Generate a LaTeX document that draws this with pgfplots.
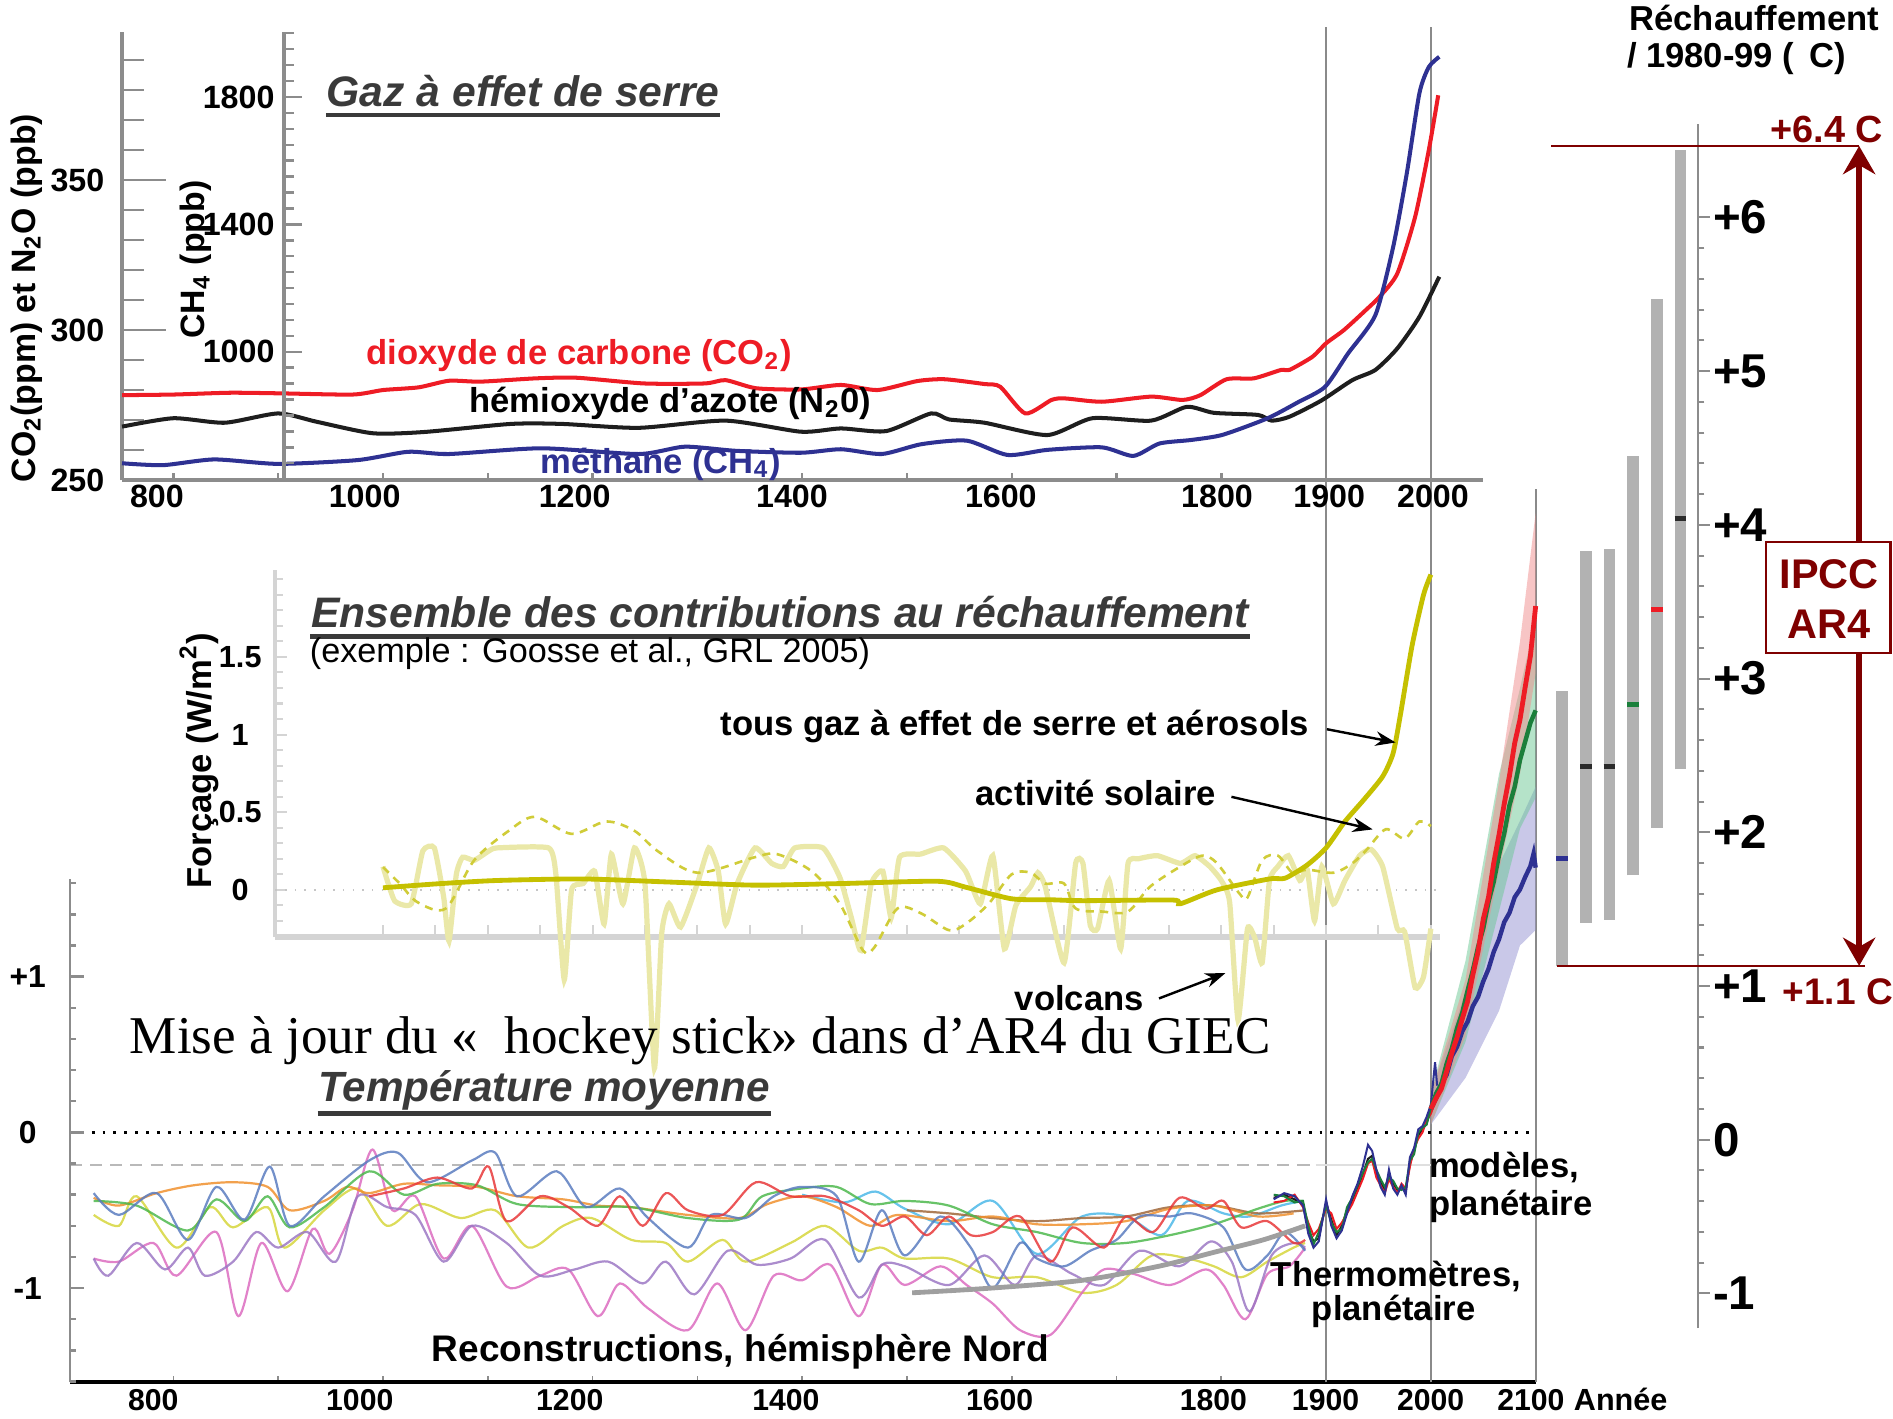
\documentclass[border=0pt]{standalone}
\usepackage{pgfplots}
\pgfplotsset{compat=1.18}
\usepackage{fontspec}
\setmainfont{Liberation Sans}
\newfontfamily\timesf{Liberation Serif}
\usetikzlibrary{arrows.meta}
\newcommand\fs[1]{\fontsize{#1}{#1}\selectfont}
\definecolor{axg}{HTML}{8C8C8C}
\definecolor{lax}{HTML}{D4D4D4}
\definecolor{co2}{HTML}{EE1C25}
\definecolor{n2o}{HTML}{1E1E1E}
\definecolor{ch4}{HTML}{2E3192}
\definecolor{ghg}{HTML}{C5C000}
\definecolor{sol}{HTML}{D0CC38}
\definecolor{vol}{HTML}{EAE8A8}
\definecolor{dred}{HTML}{7F0000}
\definecolor{ttl}{HTML}{3A3A3A}
\definecolor{barg}{HTML}{B2B2B2}
\definecolor{pgreen}{HTML}{1B7F3B}
\definecolor{darkm}{HTML}{2B2B2B}
\definecolor{rOr}{HTML}{F0902E}
\definecolor{rGr}{HTML}{4DB84D}
\definecolor{rBl}{HTML}{5A7CC0}
\definecolor{rRd}{HTML}{E8383A}
\definecolor{rPu}{HTML}{9C78C4}
\definecolor{rPk}{HTML}{DC6CC0}
\definecolor{rYe}{HTML}{D6D63C}
\definecolor{rCy}{HTML}{4CB8E8}
\definecolor{rBr}{HTML}{A0673A}
\definecolor{bandR}{HTML}{F08C8C}
\definecolor{bandG}{HTML}{6CC794}
\definecolor{bandB}{HTML}{9C9AD6}
\definecolor{vlc}{HTML}{8A8A8A}
\begin{document}
\begin{tikzpicture}
\tikzset{
  tlab/.style={anchor=base,inner sep=0pt,yshift=-6.9pt,font=\bfseries\fs{8}},
  blab/.style={anchor=base,inner sep=0pt,yshift=-6.9pt,font=\bfseries\fs{7.5}},
}
\pgfplotsset{
  every tick label/.append style={font=\bfseries\fs{8}},
  every non boxed x axis/.append style={x axis line style={-}},
  every non boxed y axis/.append style={y axis line style={-}},
  base/.style={scale only axis, clip=false, anchor=south west},
  rec/.style={smooth, line width=0.55pt, opacity=0.85},
}

%================ Temperature panel (data) ================
\begin{axis}[base, at={(17.4pt,-343.5pt)}, width=364.2pt, height=222pt,
  xmin=701.4, xmax=2100, ymin=-1.605, ymax=4.132,
  axis x line=bottom, axis y line=none,
  x axis line style={-, black, line width=1pt},
  xtick={800,900,...,2100}, xticklabel=\empty, tick align=inside,
  major tick length=1.5pt, xtick style={axg, line width=0.4pt}]
\draw[vlc, line width=0.45pt] (axis cs:1900,-1.605) -- (axis cs:1900,7.10);
\draw[vlc, line width=0.45pt] (axis cs:2000,-1.605) -- (axis cs:2000,7.10);
\draw[vlc, line width=0.45pt] (axis cs:2100,-1.605) -- (axis cs:2100,4.132);
\draw[black, dotted, line width=0.7pt] (axis cs:701.4,0) -- (axis cs:2100,0);
\draw[gray!55, densely dashed, line width=0.3pt] (axis cs:701.4,-0.21) -- (axis cs:1890,-0.21);
\draw[gray!25, line width=0.4pt] (axis cs:1890,-0.21) -- (axis cs:2000,-0.21);
\addplot[draw=none, fill=bandB, fill opacity=0.55] coordinates {(2000,0.25)(2033,0.90)(2065,1.72)(2085,2.00)(2100,2.22)(2100,1.30)(2085,1.20)(2065,0.78)(2033,0.35)(2000,0.05)} -- cycle;
\addplot[draw=none, fill=bandG, fill opacity=0.5] coordinates {(2000,0.25)(2033,1.10)(2065,2.30)(2085,2.85)(2100,3.30)(2100,2.15)(2085,1.95)(2065,1.42)(2033,0.58)(2000,0.05)} -- cycle;
\addplot[draw=none, fill=bandR, fill opacity=0.5] coordinates {(2000,0.25)(2033,0.98)(2065,2.25)(2085,3.15)(2100,3.98)(2100,2.95)(2085,2.30)(2065,1.68)(2033,0.62)(2000,0.05)} -- cycle;
\addplot[rec, rYe] coordinates {(724,-0.53)(748,-0.60)(765,-0.41)(803,-0.74)(835,-0.48)(857,-0.61)(890,-0.48)(906,-0.74)(944,-0.50)(976,-0.36)(1004,-0.60)(1036,-0.46)(1074,-0.55)(1107,-0.50)(1139,-0.74)(1172,-0.60)(1199,-0.55)(1237,-0.69)(1270,-0.71)(1291,-0.83)(1324,-0.69)(1346,-0.83)(1389,-0.71)(1422,-0.60)(1454,-0.76)(1476,-0.74)(1498,-0.81)(1540,-0.81)(1582,-0.93)(1624,-0.93)(1667,-1.03)(1700,-0.98)(1734,-0.79)(1768,-0.81)(1793,-0.86)(1819,-0.93)(1844,-0.83)(1869,-0.74)(1880,-0.71)};
\addplot[rec, rPk] coordinates {(724,-0.81)(748,-0.83)(781,-0.71)(803,-0.92)(841,-0.64)(862,-1.18)(884,-0.71)(909,-1.02)(933,-0.62)(949,-0.78)(971,-0.50)(990,-0.11)(1009,-0.50)(1031,-0.41)(1058,-0.81)(1085,-0.60)(1118,-0.99)(1150,-0.92)(1177,-0.88)(1205,-1.18)(1226,-0.97)(1253,-1.13)(1291,-1.27)(1319,-0.97)(1346,-1.27)(1373,-0.92)(1400,-0.95)(1427,-0.85)(1454,-1.18)(1476,-0.85)(1498,-0.98)(1532,-0.86)(1557,-0.98)(1582,-1.10)(1608,-1.27)(1637,-1.30)(1667,-1.03)(1688,-0.88)(1717,-0.91)(1751,-0.98)(1785,-0.88)(1802,-0.98)(1823,-1.20)(1844,-0.91)(1865,-0.86)(1880,-0.74)};
\addplot[rec, rPu] coordinates {(724,-0.81)(738,-0.92)(765,-0.71)(792,-0.88)(814,-0.74)(830,-0.92)(857,-0.83)(879,-0.64)(900,-0.74)(928,-0.64)(955,-0.83)(976,-0.41)(1004,-0.48)(1031,-0.53)(1058,-0.83)(1085,-0.60)(1118,-0.71)(1150,-0.92)(1183,-0.88)(1215,-0.83)(1248,-0.97)(1270,-0.83)(1297,-1.04)(1329,-0.76)(1357,-0.85)(1389,-0.81)(1422,-0.69)(1454,-1.06)(1476,-0.85)(1498,-0.86)(1540,-0.98)(1574,-0.79)(1603,-0.98)(1624,-0.79)(1658,-0.91)(1688,-0.98)(1722,-0.76)(1760,-0.86)(1790,-0.70)(1810,-0.83)(1827,-1.15)(1848,-0.79)(1869,-0.71)(1880,-0.74)};
\addplot[rec, rCy] coordinates {(1400,-0.40)(1440,-0.45)(1470,-0.38)(1498,-0.49)(1540,-0.59)(1582,-0.44)(1624,-0.78)(1667,-0.54)(1709,-0.54)(1743,-0.66)(1768,-0.44)(1802,-0.52)(1827,-0.54)(1857,-0.47)(1878,-0.44)};
\addplot[rec, rBr] coordinates {(1500,-0.50)(1540,-0.52)(1582,-0.55)(1624,-0.57)(1667,-0.55)(1709,-0.54)(1751,-0.48)(1793,-0.47)(1835,-0.52)(1880,-0.50)};
\addplot[rec, rOr] coordinates {(724,-0.42)(748,-0.47)(784,-0.39)(819,-0.34)(857,-0.32)(890,-0.35)(911,-0.50)(944,-0.44)(966,-0.35)(987,-0.39)(1020,-0.33)(1052,-0.34)(1090,-0.35)(1128,-0.41)(1172,-0.43)(1205,-0.47)(1237,-0.48)(1291,-0.53)(1340,-0.55)(1367,-0.46)(1400,-0.41)(1433,-0.48)(1465,-0.60)(1491,-0.53)(1540,-0.57)(1582,-0.54)(1624,-0.59)(1667,-0.59)(1709,-0.57)(1751,-0.49)(1793,-0.47)(1835,-0.54)(1869,-0.52)};
\addplot[rec, rGr] coordinates {(724,-0.44)(765,-0.47)(814,-0.63)(841,-0.43)(868,-0.57)(890,-0.41)(911,-0.61)(944,-0.48)(987,-0.25)(1020,-0.40)(1052,-0.33)(1090,-0.34)(1128,-0.46)(1183,-0.48)(1237,-0.48)(1291,-0.55)(1340,-0.56)(1362,-0.41)(1400,-0.36)(1433,-0.35)(1465,-0.46)(1498,-0.44)(1540,-0.47)(1582,-0.59)(1624,-0.64)(1667,-0.71)(1709,-0.71)(1751,-0.66)(1793,-0.59)(1835,-0.49)(1861,-0.44)(1878,-0.44)};
\addplot[rec, rBl] coordinates {(724,-0.39)(748,-0.53)(784,-0.39)(814,-0.69)(841,-0.35)(868,-0.56)(892,-0.22)(911,-0.60)(944,-0.41)(987,-0.18)(1014,-0.13)(1042,-0.32)(1085,-0.18)(1107,-0.13)(1128,-0.41)(1166,-0.25)(1194,-0.48)(1226,-0.36)(1253,-0.55)(1291,-0.74)(1313,-0.53)(1346,-0.55)(1373,-0.41)(1400,-0.35)(1433,-0.41)(1454,-0.83)(1476,-0.50)(1498,-0.79)(1532,-0.54)(1561,-0.74)(1582,-1.00)(1608,-0.71)(1624,-0.81)(1650,-0.86)(1675,-0.76)(1700,-0.69)(1722,-0.54)(1751,-0.54)(1772,-0.52)(1802,-0.61)(1823,-0.88)(1844,-0.79)(1861,-0.64)(1880,-0.76)};
\addplot[rec, rRd] coordinates {(987,-0.41)(1020,-0.36)(1052,-0.29)(1085,-0.36)(1101,-0.22)(1118,-0.57)(1150,-0.41)(1177,-0.48)(1205,-0.60)(1226,-0.41)(1248,-0.60)(1270,-0.39)(1291,-0.50)(1324,-0.53)(1356,-0.32)(1389,-0.41)(1422,-0.41)(1454,-0.50)(1476,-0.60)(1498,-0.54)(1519,-0.66)(1540,-0.54)(1561,-0.66)(1582,-0.64)(1608,-0.54)(1637,-0.83)(1658,-0.61)(1688,-0.74)(1709,-0.54)(1735,-0.64)(1760,-0.42)(1785,-0.49)(1802,-0.44)(1819,-0.61)(1844,-0.57)(1869,-0.71)(1880,-0.69)};
\addplot[smooth, gray!75, line width=1.2pt] coordinates {(1505,-1.03)(1580,-1.00)(1667,-0.95)(1740,-0.86)(1793,-0.77)(1840,-0.69)(1880,-0.60)};
\addplot[n2o, line width=0.5pt] coordinates {(1850,-0.42)(1860,-0.40)(1870,-0.43)(1878,-0.46)(1883,-0.62)(1888,-0.70)(1893,-0.68)(1900,-0.45)(1905,-0.56)(1910,-0.66)(1915,-0.60)(1920,-0.50)(1925,-0.44)(1930,-0.36)(1935,-0.27)(1940,-0.17)(1944,-0.15)(1948,-0.26)(1952,-0.32)(1956,-0.37)(1960,-0.27)(1964,-0.33)(1968,-0.37)(1972,-0.35)(1976,-0.38)(1980,-0.20)(1984,-0.12)(1988,-0.02)(1992,0.02)(1996,0.06)(2000,0.14)(2005,0.24)};
\addplot[co2, line width=0.5pt] coordinates {(1850,-0.45)(1860,-0.44)(1870,-0.40)(1878,-0.48)(1883,-0.58)(1888,-0.66)(1893,-0.62)(1900,-0.49)(1905,-0.52)(1910,-0.62)(1915,-0.58)(1920,-0.52)(1925,-0.46)(1930,-0.38)(1935,-0.30)(1940,-0.20)(1944,-0.18)(1948,-0.29)(1952,-0.34)(1956,-0.39)(1960,-0.30)(1964,-0.35)(1968,-0.39)(1972,-0.33)(1976,-0.36)(1980,-0.22)(1984,-0.10)(1988,-0.04)(1992,0.00)(1996,0.08)(2000,0.12)(2005,0.22)};
\addplot[pgreen, line width=0.5pt] coordinates {(1850,-0.40)(1860,-0.41)(1870,-0.45)(1878,-0.44)(1883,-0.60)(1888,-0.72)(1893,-0.64)(1900,-0.47)(1905,-0.58)(1910,-0.64)(1915,-0.62)(1920,-0.48)(1925,-0.42)(1930,-0.34)(1935,-0.26)(1940,-0.19)(1944,-0.17)(1948,-0.24)(1952,-0.30)(1956,-0.35)(1960,-0.29)(1964,-0.31)(1968,-0.36)(1972,-0.37)(1976,-0.35)(1980,-0.18)(1984,-0.14)(1988,0.00)(1992,0.03)(1996,0.05)(2000,0.16)(2005,0.26)};
\addplot[ch4, line width=0.5pt] coordinates {(1850,-0.43)(1860,-0.39)(1870,-0.41)(1878,-0.47)(1883,-0.65)(1888,-0.74)(1893,-0.70)(1900,-0.43)(1905,-0.60)(1910,-0.68)(1915,-0.63)(1920,-0.52)(1925,-0.41)(1930,-0.33)(1935,-0.22)(1940,-0.08)(1944,-0.12)(1948,-0.24)(1952,-0.35)(1956,-0.40)(1960,-0.24)(1964,-0.36)(1968,-0.40)(1972,-0.34)(1976,-0.40)(1980,-0.16)(1984,-0.10)(1988,0.02)(1992,0.04)(1996,0.10)(2000,0.18)(2004,0.45)(2006,0.30)};
\addplot[ch4, line width=1.1pt] coordinates {(2000,0.15)(2005,0.22)(2010,0.31)(2015,0.37)(2020,0.49)(2025,0.55)(2030,0.65)(2035,0.71)(2040,0.81)(2045,0.87)(2050,0.97)(2055,1.05)(2060,1.16)(2065,1.24)(2070,1.35)(2075,1.41)(2080,1.51)(2085,1.56)(2090,1.64)(2095,1.71)(2098,1.79)(2100,1.70)};
\addplot[pgreen, line width=1.1pt] coordinates {(2000,0.15)(2005,0.25)(2010,0.31)(2015,0.44)(2020,0.54)(2025,0.67)(2030,0.77)(2035,0.91)(2040,1.04)(2045,1.19)(2050,1.31)(2055,1.48)(2060,1.61)(2065,1.78)(2070,1.92)(2075,2.10)(2080,2.22)(2085,2.39)(2090,2.51)(2095,2.63)(2100,2.71)};
\addplot[co2, line width=1.2pt] coordinates {(2000,0.15)(2005,0.22)(2010,0.28)(2015,0.39)(2020,0.51)(2025,0.61)(2030,0.73)(2035,0.84)(2040,1.01)(2045,1.16)(2050,1.37)(2055,1.51)(2060,1.73)(2065,1.91)(2070,2.11)(2075,2.29)(2080,2.50)(2085,2.65)(2090,2.86)(2095,3.06)(2100,3.38)};
\node[blab] at (axis cs:780.9,-1.605) {800};
\node[blab] at (axis cs:977.9,-1.605) {1000};
\node[blab] at (axis cs:1178.3,-1.605) {1200};
\node[blab] at (axis cs:1384.6,-1.605) {1400};
\node[blab] at (axis cs:1588.5,-1.605) {1600};
\node[blab] at (axis cs:1792.4,-1.605) {1800};
\node[blab] at (axis cs:1899.5,-1.605) {1900};
\node[blab] at (axis cs:1999.8,-1.605) {2000};
\node[blab] at (axis cs:2095.4,-1.605) {2100};
\end{axis}

%================ Left temperature ruler ================
\begin{axis}[base, at={(17.4pt,-343.5pt)}, width=0.1pt, height=125.1pt,
  xmin=0, xmax=1, ymin=-1.605, ymax=1.628,
  axis x line=none, axis y line=left, y axis line style={-, axg, line width=0.7pt},
  ytick={-1,0,1}, yticklabels={-1,0,+1}, minor ytick={-1.6,-1.4,...,1.61},
  tick align=inside, major tick length=3.4pt, minor tick length=1.5pt,
  tick style={axg, line width=0.6pt},
  yticklabel style={font=\bfseries\fs{7.9}, anchor=center, inner sep=0pt, xshift=-10.5pt}]
\end{axis}

%================ IPCC AR4 bars ================
\begin{axis}[base, at={(384pt,-330pt)}, width=38pt, height=299.1pt,
  xmin=0.286, xmax=6.75, ymin=-1.225, ymax=6.606,
  axis x line=none, axis y line=right, y axis line style={-, axg, line width=0.6pt},
  ytick={-1,0,...,6}, yticklabels={-1,0,+1,+2,+3,+4,+5,+6}, minor y tick num=4,
  tick align=outside, major tick length=2.9pt, minor tick length=1.5pt,
  tick style={axg, line width=0.5pt},
  yticklabel style={font=\bfseries\fs{11.8}, anchor=west, inner sep=0.6pt}]
\addplot[barg, line width=2.9pt] coordinates {(1,1.13) (1,2.92)};
\addplot[barg, line width=2.9pt] coordinates {(2,1.41) (2,3.83)};
\addplot[barg, line width=2.9pt] coordinates {(3,1.43) (3,3.84)};
\addplot[barg, line width=2.9pt] coordinates {(4,1.72) (4,4.45)};
\addplot[barg, line width=2.9pt] coordinates {(5,2.03) (5,5.47)};
\addplot[barg, line width=2.9pt] coordinates {(6,2.41) (6,6.44)};
\addplot[ch4, line width=1.3pt] coordinates {(0.755,1.83) (1.245,1.83)};
\addplot[darkm, line width=1.3pt] coordinates {(1.755,2.43) (2.245,2.43)};
\addplot[darkm, line width=1.3pt] coordinates {(2.755,2.43) (3.245,2.43)};
\addplot[pgreen, line width=1.3pt] coordinates {(3.755,2.83) (4.245,2.83)};
\addplot[co2, line width=1.3pt] coordinates {(4.755,3.45) (5.245,3.45)};
\addplot[darkm, line width=1.3pt] coordinates {(5.755,4.04) (6.245,4.04)};
\draw[dred, line width=0.6pt] (axis cs:0.541,6.465) -- (axis cs:13.55,6.465);
\draw[dred, line width=0.6pt] (axis cs:0.796,1.131) -- (axis cs:13.81,1.131);
\draw[dred, line width=1.65pt, {Stealth[length=7pt,width=8pt]}-{Stealth[length=7pt,width=8pt]}] (axis cs:13.55,6.465) -- (axis cs:13.55,1.131);
\end{axis}

%================ Panel 1: greenhouse gases ================
\begin{axis}[base, at={(30.3pt,-119.28pt)}, width=338.1pt, height=111.33pt,
  xmin=750.9, xmax=2049.3, ymin=250, ymax=399.4,
  axis x line=bottom, axis y line=left,
  x axis line style={-, axg, line width=0.9pt}, y axis line style={-, axg, line width=0.9pt},
  xtick={800,900,...,2000}, xticklabel=\empty,
  ytick={250,300,350}, yticklabels={250,300,350}, minor ytick={260,270,...,390},
  tick align=inside, major tick length=11pt, minor tick length=5.4pt,
  tick style={axg, line width=0.6pt}, xtick style={/pgfplots/major tick length=1.8pt},
  yticklabel style={font=\bfseries\fs{8}, inner sep=0pt, xshift=-4.2pt}]
\addplot[co2, smooth, tension=0.4, line width=1pt] coordinates {(751,278.3)(800,278.5)(854,279.1)(902,278.9)(971,278.5)(1000,280.0)(1034,280.9)(1063,283.1)(1093,282.8)(1146,283.9)(1185,284.1)(1249,282.2)(1307,282.2)(1327,283.3)(1356,280.6)(1399,280.2)(1437,281.7)(1472,280.0)(1510,283.0)(1536,283.6)(1574,282.0)(1589,281.1)(1613,272.2)(1638,276.7)(1651,277.2)(1686,276.1)(1733,277.8)(1763,276.7)(1780,278.3)(1805,283.6)(1831,283.9)(1857,286.7)(1865,286.7)(1887,291.1)(1900,295.6)(1917,300.0)(1938,306.7)(1951,311.1)(1968,318.9)(1985,337.8)(1998,360.0)(2007,378.3)};
\addplot[n2o, smooth, tension=0.4, line width=1pt] coordinates {(751,267.8)(800,270.6)(849,269.1)(900,272.2)(937,269.4)(990,265.6)(1039,266.0)(1122,268.7)(1171,268.7)(1244,267.4)(1327,269.8)(1399,266.1)(1437,267.2)(1480,266.3)(1523,272.2)(1540,270.2)(1574,269.1)(1634,265.0)(1677,270.6)(1733,269.8)(1767,274.4)(1793,272.4)(1835,271.7)(1848,269.8)(1865,271.1)(1895,276.4)(1925,283.3)(1947,286.7)(1968,293.9)(1989,304.4)(2008,317.8)};
\node[tlab] at (axis cs:784.3,250) {800};
\node[tlab] at (axis cs:982.5,250) {1000};
\node[tlab] at (axis cs:1182.9,250) {1200};
\node[tlab] at (axis cs:1390.3,250) {1400};
\node[tlab] at (axis cs:1589.6,250) {1600};
\node[tlab] at (axis cs:1795.9,250) {1800};
\node[tlab] at (axis cs:1903,250) {1900};
\node[tlab] at (axis cs:2002,250) {2000};
\end{axis}
\begin{axis}[base, at={(30.3pt,-119.28pt)}, width=338.1pt, height=111.33pt,
  xmin=750.9, xmax=2049.3, ymin=597.4, ymax=2004, hide axis]
\addplot[ch4, smooth, tension=0.4, line width=1pt] coordinates {(751,650)(790,644)(839,662)(900,648)(976,660)(1024,686)(1063,679)(1151,697)(1244,679)(1288,702)(1337,689)(1399,683)(1437,694)(1476,679)(1514,710)(1557,721)(1596,676)(1634,692)(1686,700)(1716,673)(1741,712)(1771,723)(1801,739)(1844,791)(1874,843)(1899,890)(1921,995)(1947,1115)(1964,1329)(1977,1560)(1989,1811)(1998,1894)(2008,1926)};
\end{axis}
\begin{axis}[base, at={(70.5pt,-119.28pt)}, width=0.1pt, height=111.33pt,
  xmin=0, xmax=1, ymin=597.4, ymax=2004,
  axis x line=none, axis y line=left, y axis line style={-, axg, line width=0.9pt},
  ytick={1000,1400,1800}, yticklabels={1000,1400,1800}, minor ytick={600,650,...,2000},
  tick align=inside, major tick length=4.5pt, minor tick length=2.5pt,
  tick style={axg, line width=0.6pt},
  yticklabel style={font=\bfseries\fs{8}, inner sep=0pt, xshift=-2.1pt}]
\end{axis}

%================ Panel 2: forcing ================
\begin{axis}[base, at={(68.4pt,-232.8pt)}, width=289.5pt, height=91.2pt,
  xmin=897.2, xmax=2009, ymin=-0.303, ymax=2.061,
  axis x line=bottom, axis y line=left,
  x axis line style={-, lax, line width=1.5pt}, y axis line style={-, lax, line width=1pt},
  xtick={1000,1050,...,2000}, xticklabel=\empty,
  ytick={0,0.5,1,1.5}, yticklabels={0,0.5,1,1.5}, minor ytick={-0.3,-0.2,...,2.01},
  tick align=inside, major tick length=3pt, minor tick length=1.8pt,
  tick style={lax, line width=0.5pt},
  yticklabel style={font=\bfseries\fs{7.6}, anchor=center, inner sep=0pt, xshift=-8.7pt}]
\draw[gray!45, dotted, line width=0.4pt] (axis cs:897.2,0) -- (axis cs:2009,0);
\addplot[vol, smooth, tension=0.3, line width=1.3pt] coordinates {(1000,0.15)(1011,-0.07)(1027,-0.09)(1038,0.25)(1049,0.27)(1058,-0.05)(1063,-0.33)(1070,0.1)(1076,0.21)(1087,0.19)(1101,0.25)(1109,0.27)(1158,0.27)(1165,0.10)(1173,-0.58)(1180,0.0)(1191,0.04)(1202,0.12)(1211,-0.22)(1218,0.23)(1229,-0.09)(1240,0.27)(1250,0.04)(1259,-1.15)(1266,-0.28)(1273,-0.09)(1284,-0.24)(1300,0.04)(1311,0.27)(1320,0.12)(1327,-0.22)(1338,0.04)(1355,0.27)(1371,0.17)(1382,0.15)(1393,0.27)(1420,0.27)(1436,0.08)(1447,-0.18)(1456,-0.39)(1466,0.04)(1477,0.12)(1485,-0.18)(1493,0.21)(1513,0.23)(1535,0.27)(1556,0.12)(1570,-0.09)(1582,0.22)(1593,-0.38)(1604,-0.1)(1618,0.02)(1625,0.11)(1632,0.02)(1650,-0.47)(1661,0.17)(1668,0.17)(1675,-0.23)(1682,-0.25)(1693,0.06)(1704,-0.38)(1711,0.17)(1721,0.2)(1739,0.22)(1761,0.17)(1775,0.22)(1789,0.15)(1800,0.06)(1808,-0.08)(1816,-0.84)(1825,-0.25)(1832,-0.31)(1839,-0.47)(1846,0.06)(1854,0.15)(1864,0.22)(1875,0.06)(1882,0.13)(1889,-0.2)(1896,0.15)(1907,-0.09)(1918,0.06)(1932,0.22)(1943,0.26)(1954,0.15)(1968,-0.25)(1975,-0.27)(1985,-0.63)(1993,-0.56)(2000,-0.25)};
\addplot[sol, smooth, line width=0.65pt, dash pattern=on 2pt off 1.6pt] coordinates {(1000,0.146)(1016,0.04)(1033,-0.08)(1060,-0.12)(1087,0.19)(1120,0.38)(1145,0.47)(1180,0.36)(1213,0.44)(1240,0.38)(1262,0.25)(1300,0.11)(1355,0.21)(1376,0.23)(1409,0.12)(1436,-0.09)(1458,-0.39)(1469,-0.37)(1491,-0.12)(1513,-0.15)(1540,-0.26)(1556,-0.22)(1578,-0.09)(1600,0.1)(1618,0.11)(1632,0.04)(1650,0.04)(1661,-0.12)(1686,-0.14)(1711,-0.14)(1732,0.02)(1761,0.15)(1782,0.22)(1796,0.17)(1818,-0.03)(1825,-0.05)(1839,0.19)(1854,0.22)(1868,0.11)(1882,0.13)(1907,0.11)(1925,0.17)(1939,0.26)(1957,0.39)(1975,0.33)(1989,0.44)(2000,0.41)};
\addplot[ghg, smooth, tension=0.4, line width=1.2pt] coordinates {(1000,0.013)(1055,0.04)(1109,0.06)(1191,0.07)(1273,0.05)(1355,0.03)(1436,0.04)(1529,0.055)(1556,0.017)(1600,-0.058)(1637,-0.064)(1668,-0.07)(1754,-0.066)(1761,-0.09)(1796,0.0)(1846,0.07)(1861,0.075)(1882,0.16)(1900,0.27)(1918,0.44)(1936,0.58)(1954,0.73)(1964,0.88)(1971,1.13)(1982,1.57)(1993,1.90)(2000,2.03)};
\end{axis}

%================ Text and annotations ================
\begin{scope}[x=0.3pt,y=-0.3pt]
\node[anchor=base west,inner sep=0,text=ttl,font=\bfseries\itshape\fs{10.6}] (t1) at (270,88) {Gaz à effet de serre};
\draw[ttl,line width=1.2pt] ([yshift=-2.2pt]t1.base west) -- ([yshift=-2.2pt]t1.base east);
\node[anchor=base west,inner sep=0,text=ttl,font=\bfseries\itshape\fs{10.6}] (t2) at (257,520) {Ensemble des contributions au réchauffement};
\draw[ttl,line width=1.2pt] ([yshift=-2.2pt]t2.base west) -- ([yshift=-2.2pt]t2.base east);
\node[anchor=base west,inner sep=0,font=\fs{8.5}] at (256,549) {(exemple : Goosse et al., GRL 2005)};
\node[anchor=base west,inner sep=0,text=ttl,font=\bfseries\itshape\fs{10.5}] (t3) at (263,912) {Température moyenne};
\draw[ttl,line width=1.2pt] ([yshift=-3pt]t3.base west) -- ([yshift=-3pt]t3.base east);
\node[anchor=base west,inner sep=0,text=co2,font=\bfseries\fs{8.6}] at (303,302) {dioxyde de carbone (CO\textsubscript{2})};
\node[anchor=base west,inner sep=0,font=\bfseries\fs{8.6}] at (388,342) {hémioxyde d’azote (N\textsubscript{2}0)};
\node[anchor=base west,inner sep=0,text=ch4,font=\bfseries\fs{8.6}] at (447,392) {méthane (CH\textsubscript{4})};
\node[rotate=90,font=\bfseries\fs{8.4}] at (22,247) {CO\textsubscript{2}(ppm) et N\textsubscript{2}O (ppb)};
\node[rotate=90,font=\bfseries\fs{8.4}] at (162,215) {CH\textsubscript{4} (ppb)};
\node[rotate=90,font=\bfseries\fs{8.6}] at (165,630) {Forçage (W/m\textsuperscript{2})};
\node[anchor=base east,inner sep=0,font=\bfseries\fs{8.6}] at (1085,609) {tous gaz à effet de serre et aérosols};
\draw[-{Stealth[length=5pt,width=3.6pt]},line width=0.6pt] (1099,604) -- (1156,615);
\node[anchor=base east,inner sep=0,font=\bfseries\fs{8.6}] at (1008,667) {activité solaire};
\draw[-{Stealth[length=5pt,width=3.6pt]},line width=0.6pt] (1020,660) -- (1137,687);
\node[anchor=base west,inner sep=0,font=\bfseries\fs{8.6}] at (840,837) {volcans};
\draw[-{Stealth[length=5pt,width=3.6pt]},line width=0.6pt] (960,827) -- (1015,806);
\node[anchor=base west,inner sep=0,font=\timesf\fs{13.2}] at (107,873) {Mise à jour du «\ \ hockey stick» dans d’AR4 du GIEC};
\node[anchor=base west,inner sep=0,font=\bfseries\fs{9.2}] at (357,1128) {Reconstructions, hémisphère Nord};
\node[anchor=base west,inner sep=0,font=\bfseries\fs{8.6}] at (1052,1066) {Thermomètres,};
\node[anchor=base west,inner sep=0,font=\bfseries\fs{8.6}] at (1086,1094) {planétaire};
\node[anchor=base west,inner sep=0,font=\bfseries\fs{8.6}] at (1183,975) {modèles,};
\node[anchor=base west,inner sep=0,font=\bfseries\fs{8.6}] at (1183,1007) {planétaire};
\node[anchor=base west,inner sep=0,font=\bfseries\fs{7.6}] at (1303,1168) {Année};
\node[anchor=base west,inner sep=0,font=\bfseries\fs{8.6}] at (1349,25) {Réchauffement};
\node[anchor=base west,inner sep=0,font=\bfseries\fs{8.6}] at (1347,56) {/ 1980-99 (\hspace{0.45em}C)};
\node[anchor=base west,inner sep=0,text=dred,font=\bfseries\fs{9.4}] at (1466,118) {+6.4 C};
\node[anchor=base west,inner sep=0,text=dred,font=\bfseries\fs{9.2}] at (1476,832) {+1.1 C};
\draw[dred,line width=0.6pt,fill=white] (1463,449) rectangle (1566,541);
\node[text=dred,font=\bfseries\fs{10.3}] at (1515,476) {IPCC};
\node[text=dred,font=\bfseries\fs{10.3}] at (1515,517) {AR4};
\end{scope}
\pgfresetboundingbox
\useasboundingbox (0pt,0pt) rectangle (470.4pt,-352.5pt);
\end{tikzpicture}
\end{document}
